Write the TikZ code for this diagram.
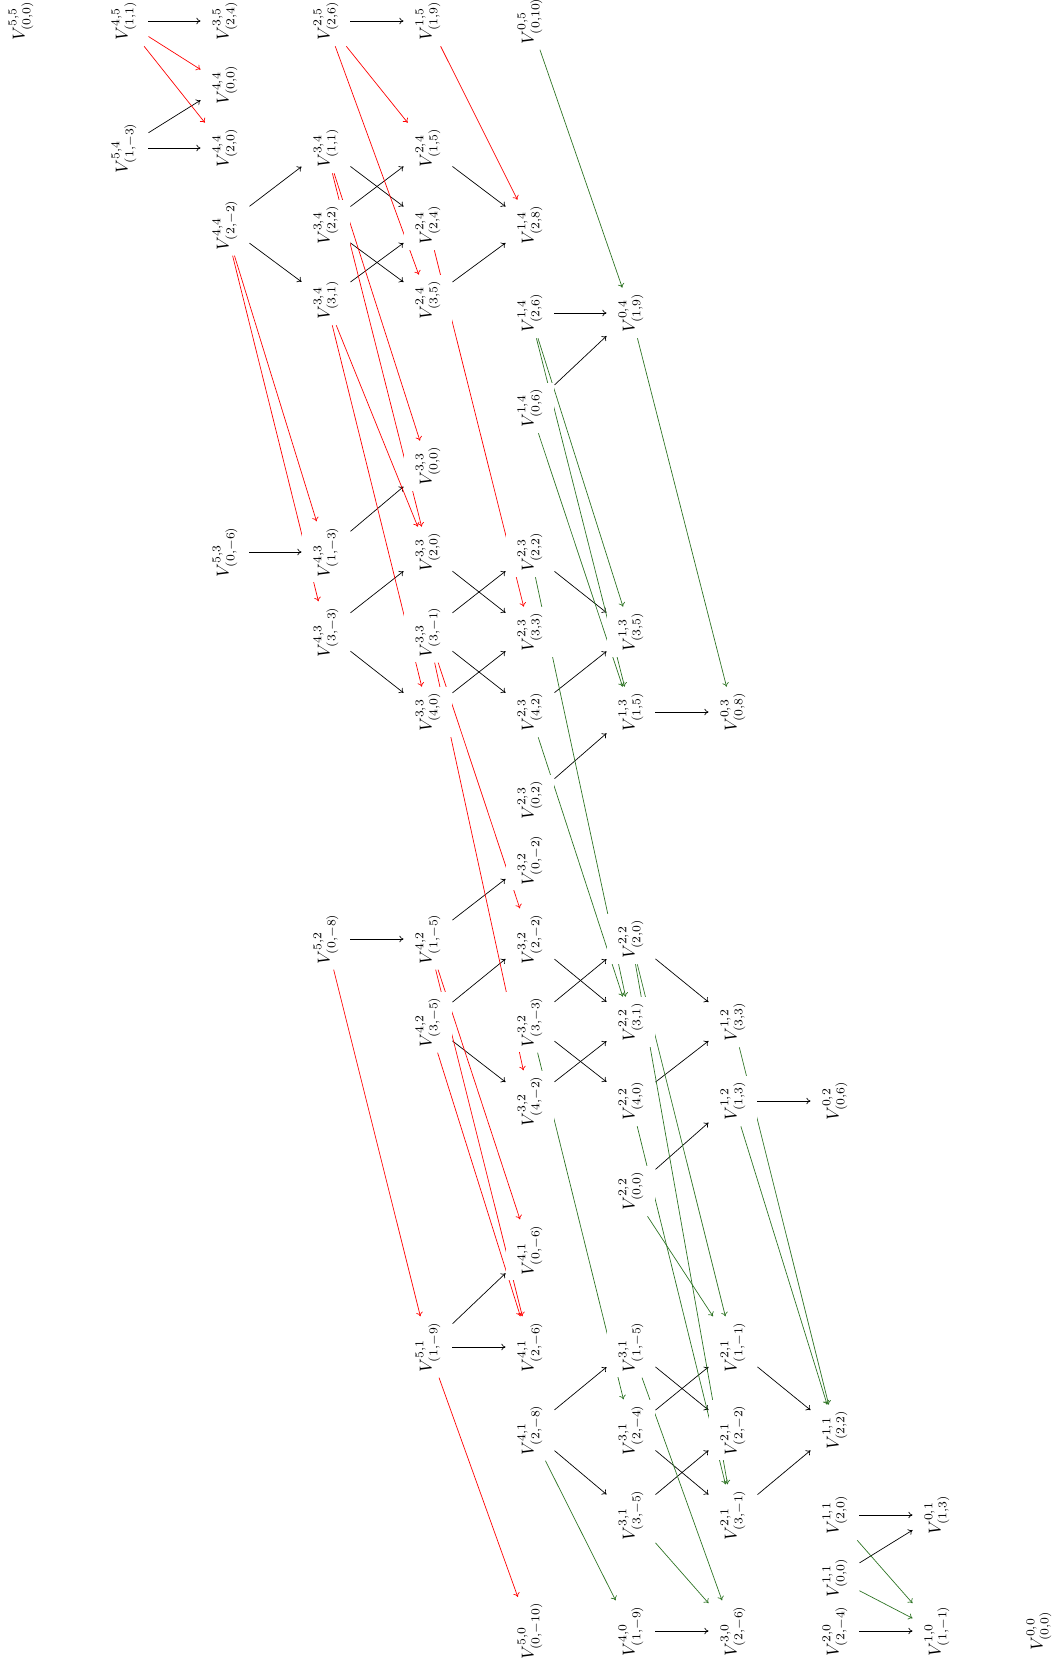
\documentclass[tikz,border=0pt]{standalone}
\usepackage{tikz}
\usetikzlibrary{arrows.meta,backgrounds}
\definecolor{dgreen}{RGB}{45,115,35}
\tikzset{
  vnode/.style={rotate=90, fill=white, inner xsep=3pt, inner ysep=0pt,
    minimum height=28pt},
  arrow/.style={-{To[length=2.4pt,width=3.8pt]}, line width=0.4pt},
  redarrow/.style={arrow, color=red},
  grnarrow/.style={arrow, color=dgreen},
}
\newcommand{\Vlab}[4]{$V^{#1,#2}_{(#3,#4)}$}

\begin{document}
\begin{tikzpicture}[x=0.58pt,y=-0.58pt]
  \useasboundingbox (0,0) rectangle (1057,1661);

  \node[vnode] (v55) at (21,21) {\Vlab{5}{5}{0}{0}};

  \node[vnode] (v45) at (124,21) {\Vlab{4}{5}{1}{1}};
  \node[vnode] (v54) at (124,148) {\Vlab{5}{4}{1}{-3}};

  \node[vnode] (v35) at (225,21) {\Vlab{3}{5}{2}{4}};
  \node[vnode] (v44a) at (225,85) {\Vlab{4}{4}{0}{0}};
  \node[vnode] (v44b) at (225,148) {\Vlab{4}{4}{2}{0}};
  \node[vnode] (v44c) at (225,225) {\Vlab{4}{4}{2}{-2}};
  \node[vnode] (v53) at (225,552) {\Vlab{5}{3}{0}{-6}};

  \node[vnode] (v25) at (326,21) {\Vlab{2}{5}{2}{6}};
  \node[vnode] (v34a) at (326,148) {\Vlab{3}{4}{1}{1}};
  \node[vnode] (v34b) at (326,225) {\Vlab{3}{4}{2}{2}};
  \node[vnode] (v34c) at (326,300) {\Vlab{3}{4}{3}{1}};
  \node[vnode] (v43a) at (326,552) {\Vlab{4}{3}{1}{-3}};
  \node[vnode] (v43b) at (326,632) {\Vlab{4}{3}{3}{-3}};
  \node[vnode] (v52) at (326,939) {\Vlab{5}{2}{0}{-8}};

  \node[vnode] (v15) at (428,21) {\Vlab{1}{5}{1}{9}};
  \node[vnode] (v24a) at (428,148) {\Vlab{2}{4}{1}{5}};
  \node[vnode] (v24b) at (428,225) {\Vlab{2}{4}{2}{4}};
  \node[vnode] (v24c) at (428,300) {\Vlab{2}{4}{3}{5}};
  \node[vnode] (v33a) at (428,466) {\Vlab{3}{3}{0}{0}};
  \node[vnode] (v33b) at (428,552) {\Vlab{3}{3}{2}{0}};
  \node[vnode] (v33c) at (428,632) {\Vlab{3}{3}{3}{-1}};
  \node[vnode] (v33d) at (428,712) {\Vlab{3}{3}{4}{0}};
  \node[vnode] (v42a) at (428,939) {\Vlab{4}{2}{1}{-5}};
  \node[vnode] (v42b) at (428,1022) {\Vlab{4}{2}{3}{-5}};
  \node[vnode] (v51) at (428,1347) {\Vlab{5}{1}{1}{-9}};

  \node[vnode] (v05) at (530,21) {\Vlab{0}{5}{0}{10}};
  \node[vnode] (v14a) at (530,225) {\Vlab{1}{4}{2}{8}};
  \node[vnode] (v14b) at (530,313) {\Vlab{1}{4}{2}{6}};
  \node[vnode] (v14c) at (530,408) {\Vlab{1}{4}{0}{6}};
  \node[vnode] (v23a) at (530,552) {\Vlab{2}{3}{2}{2}};
  \node[vnode] (v23b) at (530,632) {\Vlab{2}{3}{3}{3}};
  \node[vnode] (v23c) at (530,712) {\Vlab{2}{3}{4}{2}};
  \node[vnode] (v23d) at (530,800) {\Vlab{2}{3}{0}{2}};
  \node[vnode] (v32a) at (530,860) {\Vlab{3}{2}{0}{-2}};
  \node[vnode] (v32b) at (530,939) {\Vlab{3}{2}{2}{-2}};
  \node[vnode] (v32c) at (530,1022) {\Vlab{3}{2}{3}{-3}};
  \node[vnode] (v32d) at (530,1101) {\Vlab{3}{2}{4}{-2}};
  \node[vnode] (v41a) at (530,1250) {\Vlab{4}{1}{0}{-6}};
  \node[vnode] (v41b) at (530,1347) {\Vlab{4}{1}{2}{-6}};
  \node[vnode] (v41c) at (530,1430) {\Vlab{4}{1}{2}{-8}};
  \node[vnode] (v50) at (530,1631) {\Vlab{5}{0}{0}{-10}};

  \node[vnode] (v04) at (631,313) {\Vlab{0}{4}{1}{9}};
  \node[vnode] (v13a) at (631,632) {\Vlab{1}{3}{3}{5}};
  \node[vnode] (v13b) at (631,712) {\Vlab{1}{3}{1}{5}};
  \node[vnode] (v22a) at (631,939) {\Vlab{2}{2}{2}{0}};
  \node[vnode] (v22b) at (631,1022) {\Vlab{2}{2}{3}{1}};
  \node[vnode] (v22c) at (631,1101) {\Vlab{2}{2}{4}{0}};
  \node[vnode] (v22d) at (631,1191) {\Vlab{2}{2}{0}{0}};
  \node[vnode] (v31a) at (631,1347) {\Vlab{3}{1}{1}{-5}};
  \node[vnode] (v31b) at (631,1430) {\Vlab{3}{1}{2}{-4}};
  \node[vnode] (v31c) at (631,1515) {\Vlab{3}{1}{3}{-5}};
  \node[vnode] (v40) at (631,1631) {\Vlab{4}{0}{1}{-9}};

  \node[vnode] (v03) at (733,712) {\Vlab{0}{3}{0}{8}};
  \node[vnode] (v12a) at (733,1022) {\Vlab{1}{2}{3}{3}};
  \node[vnode] (v12b) at (733,1101) {\Vlab{1}{2}{1}{3}};
  \node[vnode] (v21a) at (733,1347) {\Vlab{2}{1}{1}{-1}};
  \node[vnode] (v21b) at (733,1430) {\Vlab{2}{1}{2}{-2}};
  \node[vnode] (v21c) at (733,1515) {\Vlab{2}{1}{3}{-1}};
  \node[vnode] (v30) at (733,1631) {\Vlab{3}{0}{2}{-6}};

  \node[vnode] (v02) at (835,1101) {\Vlab{0}{2}{0}{6}};
  \node[vnode] (v11a) at (835,1430) {\Vlab{1}{1}{2}{2}};
  \node[vnode] (v11b) at (835,1515) {\Vlab{1}{1}{2}{0}};
  \node[vnode] (v11c) at (835,1578) {\Vlab{1}{1}{0}{0}};
  \node[vnode] (v20) at (835,1631) {\Vlab{2}{0}{2}{-4}};

  \node[vnode] (v01) at (937,1515) {\Vlab{0}{1}{1}{3}};
  \node[vnode] (v10) at (937,1631) {\Vlab{1}{0}{1}{-1}};

  \node[vnode] (v00) at (1039,1631) {\Vlab{0}{0}{0}{0}};

  \begin{scope}[on background layer]
    % black maps
    \draw[arrow] (v45) -- (v35);
    \draw[arrow] (v25) -- (v15);
    \draw[arrow] (v54) -- (v44a);
    \draw[arrow] (v54) -- (v44b);
    \draw[arrow] (v44c) -- (v34a);
    \draw[arrow] (v44c) -- (v34c);
    \draw[arrow] (v34a) -- (v24b);
    \draw[arrow] (v34b) -- (v24a);
    \draw[arrow] (v34b) -- (v24c);
    \draw[arrow] (v34c) -- (v24b);
    \draw[arrow] (v24a) -- (v14a);
    \draw[arrow] (v24c) -- (v14a);
    \draw[arrow] (v14b) -- (v04);
    \draw[arrow] (v14c) -- (v04);
    \draw[arrow] (v53) -- (v43a);
    \draw[arrow] (v43a) -- (v33a);
    \draw[arrow] (v43b) -- (v33b);
    \draw[arrow] (v43b) -- (v33d);
    \draw[arrow] (v33b) -- (v23b);
    \draw[arrow] (v33c) -- (v23a);
    \draw[arrow] (v33c) -- (v23c);
    \draw[arrow] (v33d) -- (v23b);
    \draw[arrow] (v23a) -- (v13a);
    \draw[arrow] (v23c) -- (v13a);
    \draw[arrow] (v23d) -- (v13b);
    \draw[arrow] (v13b) -- (v03);
    \draw[arrow] (v52) -- (v42a);
    \draw[arrow] (v42a) -- (v32a);
    \draw[arrow] (v42b) -- (v32b);
    \draw[arrow] (v42b) -- (v32d);
    \draw[arrow] (v32b) -- (v22b);
    \draw[arrow] (v32c) -- (v22a);
    \draw[arrow] (v32c) -- (v22c);
    \draw[arrow] (v32d) -- (v22b);
    \draw[arrow] (v22a) -- (v12a);
    \draw[arrow] (v22c) -- (v12a);
    \draw[arrow] (v22d) -- (v12b);
    \draw[arrow] (v12b) -- (v02);
    \draw[arrow] (v51) -- (v41a);
    \draw[arrow] (v51) -- (v41b);
    \draw[arrow] (v41c) -- (v31a);
    \draw[arrow] (v41c) -- (v31c);
    \draw[arrow] (v31a) -- (v21b);
    \draw[arrow] (v31b) -- (v21a);
    \draw[arrow] (v31b) -- (v21c);
    \draw[arrow] (v31c) -- (v21b);
    \draw[arrow] (v21a) -- (v11a);
    \draw[arrow] (v21c) -- (v11a);
    \draw[arrow] (v11b) -- (v01);
    \draw[arrow] (v11c) -- (v01);
    \draw[arrow] (v40) -- (v30);
    \draw[arrow] (v20) -- (v10);

    % red maps
    \draw[redarrow] (v45) -- (v44a);
    \draw[redarrow] (v45) -- (v44b);
    \draw[redarrow] (v25) -- (v24a);
    \draw[redarrow] (v25) -- (v24c);
    \draw[redarrow] (v15) -- (v14a);
    \draw[redarrow] (v44c) -- (v43a);
    \draw[redarrow] (v44c) -- (v43b);
    \draw[redarrow] (v34a) -- (v33a);
    \draw[redarrow] (v34a) -- (v33b);
    \draw[redarrow] (v34c) -- (v33b);
    \draw[redarrow] (v34c) -- (v33d);
    \draw[redarrow] (v24b) -- (v23b);
    \draw[redarrow] (v33c) -- (v32b);
    \draw[redarrow] (v33c) -- (v32d);
    \draw[redarrow] (v52) -- (v51);
    \draw[redarrow] (v42a) -- (v41a);
    \draw[redarrow] (v42a) -- (v41b);
    \draw[redarrow] (v42b) -- (v41b);
    \draw[redarrow] (v51) -- (v50);

    % green maps
    \draw[grnarrow] (v05) -- (v04);
    \draw[grnarrow] (v14b) -- (v13a);
    \draw[grnarrow] (v14b) -- (v13b);
    \draw[grnarrow] (v14c) -- (v13b);
    \draw[grnarrow] (v04) -- (v03);
    \draw[grnarrow] (v23a) -- (v22b);
    \draw[grnarrow] (v23c) -- (v22b);
    \draw[grnarrow] (v32c) -- (v31b);
    \draw[grnarrow] (v22a) -- (v21a);
    \draw[grnarrow] (v22a) -- (v21c);
    \draw[grnarrow] (v22c) -- (v21c);
    \draw[grnarrow] (v22d) -- (v21a);
    \draw[grnarrow] (v12a) -- (v11a);
    \draw[grnarrow] (v12b) -- (v11a);
    \draw[grnarrow] (v41c) -- (v40);
    \draw[grnarrow] (v31a) -- (v30);
    \draw[grnarrow] (v31c) -- (v30);
    \draw[grnarrow] (v11b) -- (v10);
    \draw[grnarrow] (v11c) -- (v10);
  \end{scope}

\end{tikzpicture}
\end{document}
